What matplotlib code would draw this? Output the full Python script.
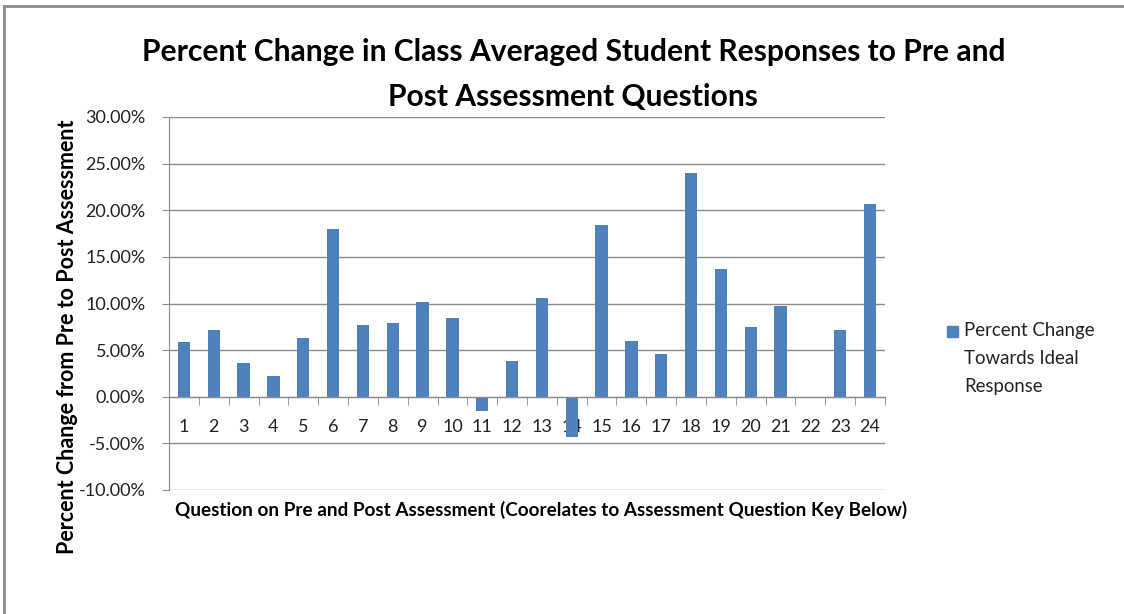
import matplotlib
matplotlib.use("Agg")
import matplotlib.pyplot as plt
from matplotlib.ticker import FuncFormatter, FixedLocator
from matplotlib.patches import Rectangle
from matplotlib.lines import Line2D

questions = [str(i) for i in range(1, 25)]
percent_change = [5.82, 7.14, 3.57, 2.18, 6.32, 18.04, 7.71, 7.96, 10.21, 8.43,
                  -1.50, 3.79, 10.57, -4.36, 18.39, 5.96, 4.54, 23.96, 13.75, 7.50,
                  9.75, 0.0, 7.14, 20.64]
y_ticks = [-10, -5, 0, 5, 10, 15, 20, 25, 30]

title_lines = ["Percent Change in Class Averaged Student Responses to Pre and",
               "Post Assessment Questions"]
xlabel = "Question on Pre and Post Assessment (Coorelates to Assessment Question Key Below)"
ylabel = "Percent Change from Pre to Post Assessment"
legend_label = "Percent Change\nTowards Ideal\nResponse"

FONT = "Lato"
plt.rcParams['font.family'] = [FONT, 'DejaVu Sans']

W, H = 1124, 614
fig = plt.figure(figsize=(W / 100, H / 100), dpi=100)
fig.patch.set_facecolor("white")

# frame border of the outer figure
fig.add_artist(Line2D([4 / W, 1], [1 - 6 / H, 1 - 6 / H], color="#8c8c8c", lw=2, transform=fig.transFigure))
fig.add_artist(Line2D([4 / W, 4 / W], [0, 1 - 6 / H], color="#8c8c8c", lw=2, transform=fig.transFigure))

ax = fig.add_axes([169 / W, (H - 490) / H, (885 - 169) / W, (490 - 117) / H])
x = list(range(1, len(questions) + 1))
ax.bar(x, percent_change, width=0.41, color="#4F81BD", zorder=3)

ax.set_xlim(0.5, len(questions) + 0.5)
ax.set_ylim(-10, 30)
ax.set_yticks(y_ticks)
ax.yaxis.set_major_formatter(FuncFormatter(lambda v, p: f"{v:.2f}%"))
ax.grid(axis="y", color="#8c8c8c", lw=1.0, zorder=0)

for s in ["top", "right"]:
    ax.spines[s].set_visible(False)
ax.spines["left"].set_color("#8c8c8c")
ax.spines["bottom"].set_color("#8c8c8c")
ax.spines["bottom"].set_position(("data", 0))
ax.spines["bottom"].set_zorder(4)

ax.set_xticks(x)
ax.set_xticklabels(questions)
ax.xaxis.set_minor_locator(FixedLocator([i + 0.5 for i in range(0, len(questions) + 1)]))
ax.tick_params(axis="x", which="major", length=0, pad=16, labelsize=13, labelcolor="#222222")
ax.tick_params(axis="x", which="minor", length=6, color="#8c8c8c")
ax.tick_params(axis="y", which="major", length=5, color="#8c8c8c", pad=12, labelsize=13, labelcolor="#222222")

fig.text(574 / W, 1 - 52 / H, title_lines[0], ha="center", va="center", fontsize=21.6, fontweight="bold",
         color="black")
fig.text(573 / W, 1 - 97 / H, title_lines[1], ha="center", va="center", fontsize=21.6, fontweight="bold",
         color="black")
fig.text(541 / W, 1 - 510 / H, xlabel, ha="center", va="center", fontsize=13.6, fontweight="bold", color="black")
fig.text(68 / W, 1 - 337 / H, ylabel, ha="center", va="center", rotation=90, fontsize=15.5,
         fontweight="bold", color="black")

fig.add_artist(Rectangle((947 / W, 1 - 337 / H), 11 / W, 11 / H, color="#4F81BD", transform=fig.transFigure))
fig.text(964 / W, 1 - 322 / H, legend_label, ha="left", va="top", fontsize=13.4, linespacing=1.78, color="#222222")

fig.savefig("out.png", dpi=100)
